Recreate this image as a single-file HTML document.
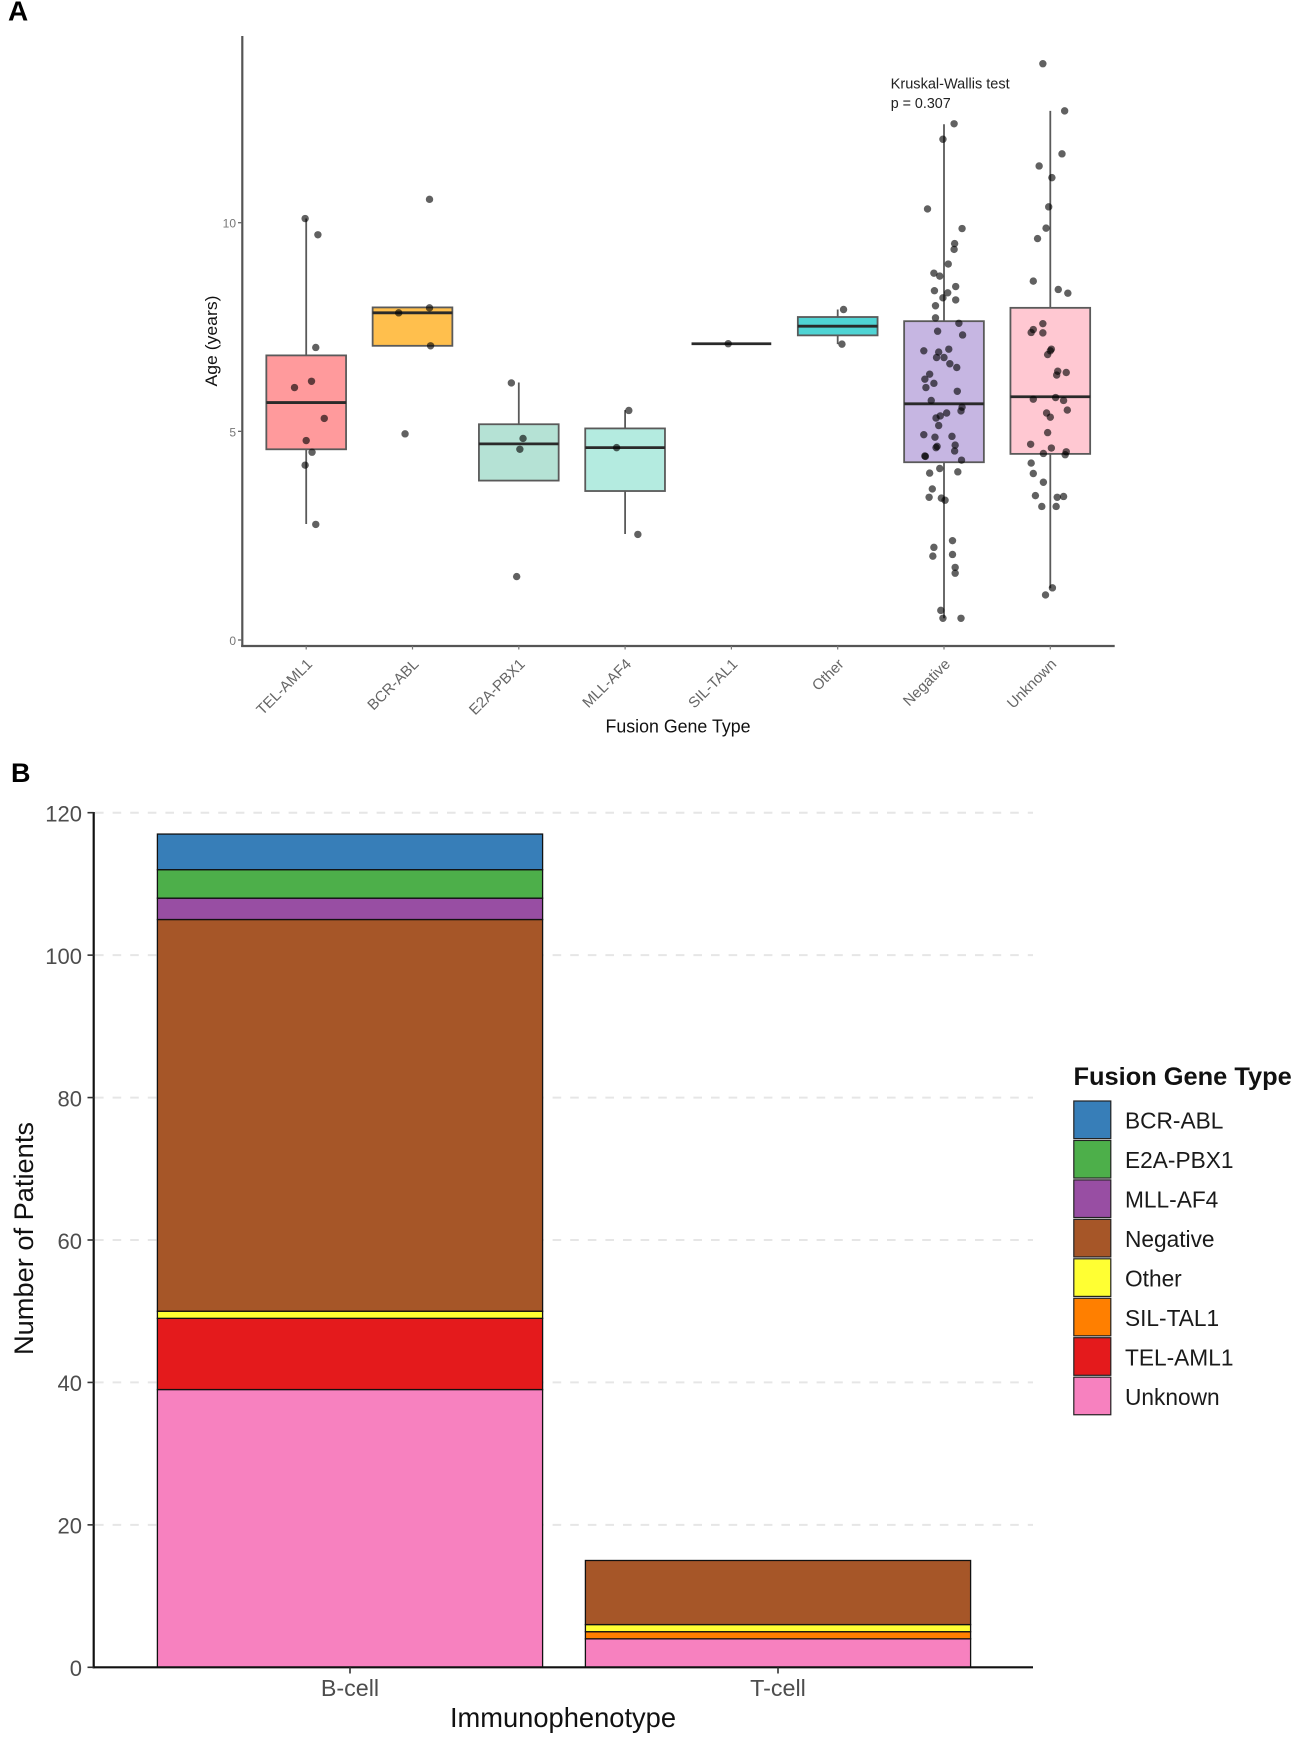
<!DOCTYPE html>
<html lang="en">
<head>
<meta charset="utf-8">
<title>Fusion gene type by age and immunophenotype</title>
<style>
html,body{margin:0;padding:0;background:#fff;}
svg{display:block;font-family:"Liberation Sans",Arial,sans-serif;}
</style>
</head>
<body>
<svg id="fig" xmlns="http://www.w3.org/2000/svg" width="1299" height="1743" viewBox="0 0 1299 1743">
  <rect x="0" y="0" width="1299" height="1743" fill="#ffffff"/>
  <text x="8" y="20.5" font-size="28" font-weight="bold" fill="#000">A</text>
  <text x="11" y="782" font-size="27" font-weight="bold" fill="#000">B</text>

  <g id="panelA">
    <g id="aMarks"></g>
    <line x1="242.3" y1="36" x2="242.3" y2="647" stroke="#555" stroke-width="2.2"/>
    <line x1="241.2" y1="646" x2="1114.7" y2="646" stroke="#555" stroke-width="2.2"/>
    <g id="aAxes"></g>
    <text transform="translate(217,341) rotate(-90)" text-anchor="middle" font-size="17" textLength="91" lengthAdjust="spacingAndGlyphs" fill="#111">Age (years)</text>
    <text x="605.5" y="732.7" font-size="18" textLength="145" lengthAdjust="spacingAndGlyphs" fill="#111">Fusion Gene Type</text>
    <text x="890.7" y="88.3" font-size="14.3" textLength="119" lengthAdjust="spacingAndGlyphs" fill="#222">Kruskal-Wallis test</text>
    <text x="890.7" y="108" font-size="14.3" fill="#222">p = 0.307</text>
  </g>

  <g id="panelB">
    <g id="bGrid"></g>
    <g id="bBars"></g>
    <line x1="93.7" y1="812" x2="93.7" y2="1668.3" stroke="#111" stroke-width="2.2"/>
    <line x1="92.6" y1="1667.3" x2="1033" y2="1667.3" stroke="#111" stroke-width="2.2"/>
    <g id="bAxes"></g>
    <text transform="translate(33,1238.5) rotate(-90)" text-anchor="middle" font-size="27" textLength="233" lengthAdjust="spacingAndGlyphs" fill="#111">Number of Patients</text>
    <text x="563" y="1727" text-anchor="middle" font-size="27.3" fill="#111">Immunophenotype</text>
    <g id="legend">
      <text x="1073.5" y="1085" font-size="25.4" font-weight="bold" fill="#111">Fusion Gene Type</text>
    </g>
  </g>
</svg>
<script>
// ---------- Panel A data ----------
const boxCategories = ['TEL-AML1','BCR-ABL','E2A-PBX1','MLL-AF4','SIL-TAL1','Other','Negative','Unknown'];
const boxFills = ['#ff9a9c','#ffbf4d','#b5e2d5','#b4ebe0','#5ad6d6','#4fd4d4','#c6b6e2','#ffc8d2'];
const boxQ1 = [4.57,7.05,3.82,3.57,7.10,7.30,4.26,4.46];
const boxMedian = [5.69,7.84,4.70,4.61,7.10,7.52,5.66,5.83];
const boxQ3 = [6.82,7.97,5.17,5.07,7.10,7.74,7.64,7.96];
const whiskerLow = [2.78,7.05,3.82,2.54,7.10,7.09,0.52,1.24];
const whiskerHigh = [10.10,7.97,6.17,5.51,7.10,7.92,12.36,12.68];
const ageTicks = [0,5,10];

const telAges = [10.10,9.71,7.01,6.20,6.05,5.31,4.78,4.50,4.19,2.77];
const telJitter = [-0.01,0.11,0.09,0.05,-0.11,0.17,0,0.055,-0.01,0.09];
const bcrAges = [10.56,7.96,7.84,7.05,4.94];
const bcrJitter = [0.16,0.16,-0.13,0.17,-0.07];
const e2aAges = [6.16,4.83,4.57,1.52];
const e2aJitter = [-0.07,0.04,0.01,-0.02];
const mllAges = [5.50,4.61,2.53];
const mllJitter = [0.035,-0.08,0.12];
const silAges = [7.10];
const silJitter = [-0.03];
const otherAges = [7.92,7.09];
const otherJitter = [0.055,0.04];
const negAges = [12.37,12.0,10.33,9.86,9.50,9.36,9.01,8.79,8.72,8.47,8.37,8.32,8.20,8.15,8.01,7.72,7.59,7.40,7.31,6.93,6.97,6.90,6.77,6.77,6.62,6.53,6.37,6.25,6.15,6.05,5.96,5.74,5.58,5.49,5.44,5.37,5.32,5.14,4.92,4.86,4.88,4.67,4.64,4.61,4.53,4.41,4.40,4.31,4.11,4.00,4.03,3.62,3.42,3.40,3.35,2.38,2.22,2.01,2.05,1.74,1.60,0.71,0.52,0.52];
const negJitter = [0.095,-0.01,-0.155,0.17,0.10,0.095,0.04,-0.095,-0.04,0.11,-0.09,0.035,-0.01,0.11,-0.08,-0.08,0.14,-0.06,0.175,-0.19,0.045,-0.05,-0.07,0,0.055,0.12,-0.135,-0.18,-0.095,-0.17,0.125,-0.12,0.17,0.16,0.025,-0.035,-0.075,-0.05,-0.19,-0.085,0.075,0.105,-0.065,-0.075,0.10,-0.18,-0.175,0.165,-0.04,-0.135,0.13,-0.11,-0.14,-0.025,0.01,0.08,-0.095,-0.105,0.08,0.105,0.105,-0.03,-0.01,0.16];
const unkAges = [13.81,12.68,11.65,11.36,11.08,10.38,9.87,9.62,8.60,8.40,8.31,7.58,7.44,7.37,7.36,6.97,6.93,6.84,6.44,6.35,6.41,5.77,5.81,5.74,5.51,5.44,5.34,4.97,4.69,4.60,4.47,4.51,4.44,4.24,3.99,3.78,3.46,3.42,3.44,3.20,3.20,1.25,1.08];
const unkJitter = [-0.07,0.135,0.11,-0.105,0.015,-0.015,-0.04,-0.12,-0.16,0.075,0.165,-0.07,-0.16,-0.18,-0.07,0.01,0,-0.025,0.07,0.06,0.15,-0.16,0.05,0.125,0.16,-0.035,0,-0.025,-0.185,0.01,-0.065,0.15,0.14,-0.18,-0.16,-0.065,-0.14,0.065,0.125,-0.08,0.055,0.02,-0.045];
const pointAges = [telAges,bcrAges,e2aAges,mllAges,silAges,otherAges,negAges,unkAges];
const pointJitter = [telJitter,bcrJitter,e2aJitter,mllJitter,silJitter,otherJitter,negJitter,unkJitter];

// ---------- Panel B data ----------
const barCategories = ['B-cell','T-cell'];
const geneTypes = ['BCR-ABL','E2A-PBX1','MLL-AF4','Negative','Other','SIL-TAL1','TEL-AML1','Unknown'];
const geneColors = ['#377eb8','#4daf4a','#984ea3','#a65628','#ffff33','#ff7f00','#e41a1c','#f781bf'];
const bCellCounts = [5,4,3,55,1,0,10,39];
const tCellCounts = [0,0,0,9,1,1,0,4];
const countTicks = [0,20,40,60,80,100,120];

// ---------- Helpers and scales ----------
const SVG_NS = 'http://www.w3.org/2000/svg';
function make(parent, tag, props, text) {
  const el = document.createElementNS(SVG_NS, tag);
  Object.keys(props).forEach(function (k) { el.setAttribute(k, props[k]); });
  if (text !== undefined) el.textContent = text;
  document.getElementById(parent).appendChild(el);
  return el;
}
function slug(s) { return s.toLowerCase().replace(/[^a-z0-9]+/g, '-'); }

const ageY = function (v) { return 640 - 41.73 * v; };
const catX = function (i) { return 306.2 + 106.3 * i; };
const BOX_WIDTH = 0.75;
const CAT_STEP = 106.3;
const countY = function (v) { return 1667.3 - 7.1217 * v; };
const barX = function (i) { return 350 + 428 * i; };
const BAR_WIDTH = 385.2;

// ---------- Draw panel A ----------
ageTicks.forEach(function (t) {
  const tick = make('aAxes', 'line', {x1: 238, x2: 242, y1: ageY(t), y2: ageY(t), stroke: '#666', 'stroke-width': 1.3});
  
  
  const lab = make('aAxes', 'text', {x: 236, y: ageY(t) + 5, 'text-anchor': 'end', 'font-size': 12, fill: '#777'}, String(t));
  
  
});

boxCategories.forEach(function (cat, i) {
  const cx = catX(i);
  const name = slug(cat);
  const halfW = BOX_WIDTH * CAT_STEP / 2;

  const tick = make('aAxes', 'line', {x1: cx, x2: cx, y1: 646, y2: 649.5, stroke: '#777', 'stroke-width': 1.2});
  
  
  const ax = cx + 7;
  const lab = make('aAxes', 'text', {x: ax, y: 665, 'text-anchor': 'end', 'font-size': 15, fill: '#666', transform: 'rotate(-45 ' + ax + ' 665)'}, cat);
  
  

  const whisker = make('aMarks', 'line', {x1: cx, x2: cx, y1: ageY(whiskerLow[i]), y2: ageY(whiskerHigh[i]), stroke: '#5a5a5a', 'stroke-width': 1.8});
  
  

  const box = make('aMarks', 'rect', {x: cx - halfW, y: ageY(boxQ3[i]), width: halfW * 2, height: ageY(boxQ1[i]) - ageY(boxQ3[i]), fill: boxFills[i], stroke: '#5a5a5a', 'stroke-width': 1.8});
  
  

  const median = make('aMarks', 'line', {x1: cx - halfW, x2: cx + halfW, y1: ageY(boxMedian[i]), y2: ageY(boxMedian[i]), stroke: '#2a2a2a', 'stroke-width': 2.8});
  
  

  pointAges[i].forEach(function (age, j) {
    const dot = make('aMarks', 'circle', {cx: cx + pointJitter[i][j] * CAT_STEP, cy: ageY(age), r: 3.7, fill: '#000', 'fill-opacity': 0.62});
    
    
  });
});

// ---------- Draw panel B ----------
countTicks.forEach(function (t) {
  if (t > 0) {
    const grid = make('bGrid', 'line', {x1: 95, x2: 1033, y1: countY(t), y2: countY(t), stroke: '#e6e6e6', 'stroke-width': 2, 'stroke-dasharray': '8.6 9'});
    
    
  }
  const tick = make('bAxes', 'line', {x1: 87.5, x2: 93.7, y1: countY(t), y2: countY(t), stroke: '#333', 'stroke-width': 1.6});
  
  
  const lab = make('bAxes', 'text', {x: 82, y: countY(t) + 8.8, 'text-anchor': 'end', 'font-size': 22, fill: '#4d4d4d'}, String(t));
  
  
});

[bCellCounts, tCellCounts].forEach(function (counts, b) {
  const cx = barX(b);
  const barName = slug(barCategories[b]);
  const tick = make('bAxes', 'line', {x1: cx, x2: cx, y1: 1667.3, y2: 1673.5, stroke: '#333', 'stroke-width': 1.6});
  
  
  const lab = make('bAxes', 'text', {x: cx, y: 1696, 'text-anchor': 'middle', 'font-size': 23.3, fill: '#4d4d4d'}, barCategories[b]);
  
  

  let base = 0;
  for (let s = geneTypes.length - 1; s >= 0; s--) {
    const n = counts[s];
    if (n > 0) {
      const seg = make('bBars', 'rect', {x: cx - BAR_WIDTH / 2, y: countY(base + n), width: BAR_WIDTH, height: countY(base) - countY(base + n), fill: geneColors[s], stroke: '#111', 'stroke-width': 1.3});
      
      
    }
    base += n;
  }
});

geneTypes.forEach(function (g, i) {
  const top = 1101 + 39.45 * i;
  const sw = make('legend', 'rect', {x: 1073.8, y: top, width: 37, height: 37.6, fill: geneColors[i], stroke: '#222', 'stroke-width': 1.2});
  
  
  const lab = make('legend', 'text', {x: 1125, y: top + 27.6, 'font-size': 22.7, fill: '#1a1a1a'}, g);
  
  
});
</script>
</body>
</html>
